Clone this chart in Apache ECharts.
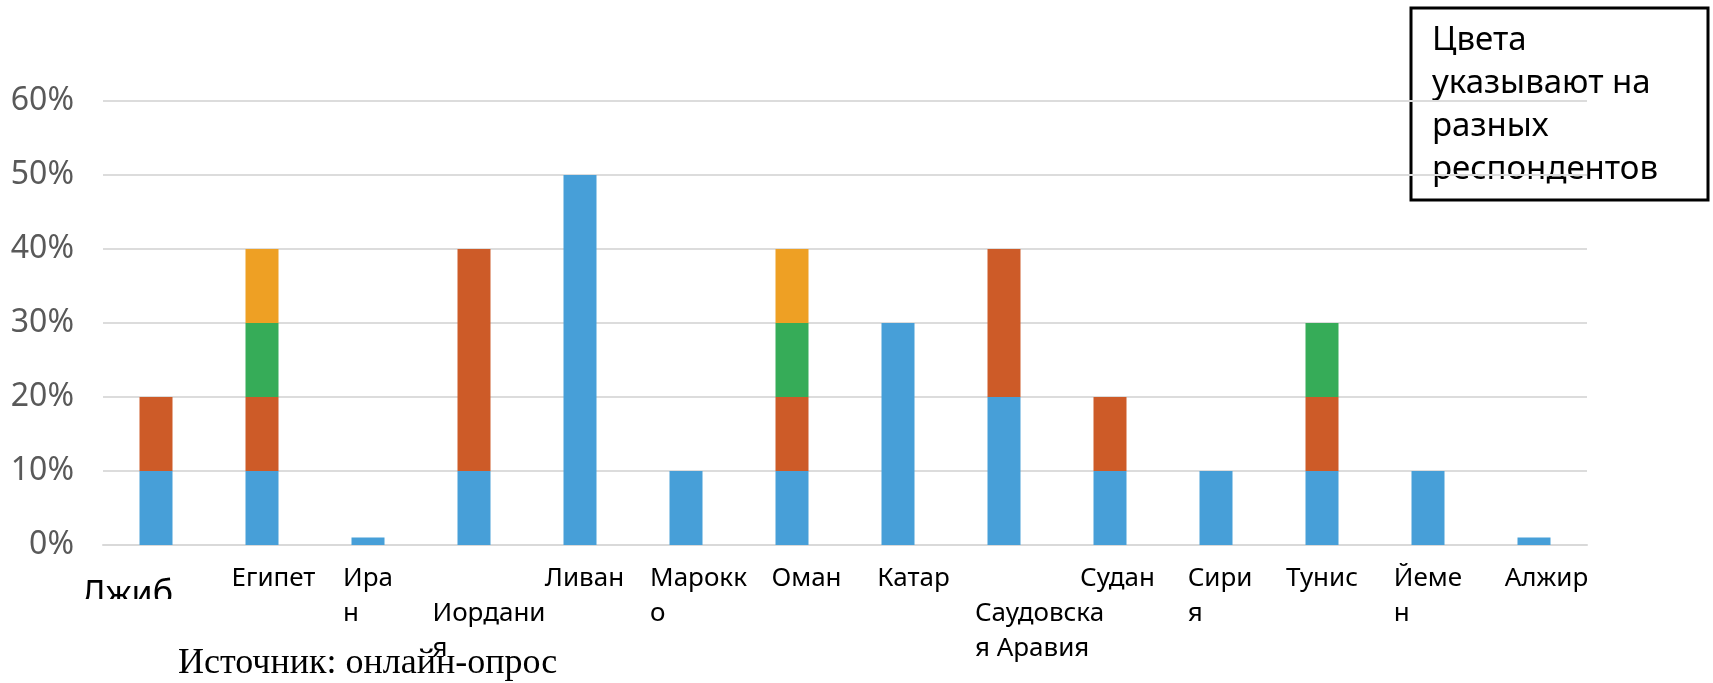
<!DOCTYPE html>
<html>
<head>
<meta charset="utf-8">
<title>Ответы по странам</title>
<script src="https://cdn.jsdelivr.net/npm/echarts@6/dist/echarts.min.js"></script>
<style>
    html, body {margin: 0; padding: 0; background: #fff;}
    #main {width: 1713px; height: 683px;}
</style>
</head>
<body>
<div id="main"></div>
<script>
var categories = ['Джибути', 'Египет', 'Иран', 'Иордания', 'Ливан', 'Марокко', 'Оман', 'Катар',
    'Саудовская Аравия', 'Судан', 'Сирия', 'Тунис', 'Йемен', 'Алжир'];
// подписи оси как на картинке (с переносами), у Джибути своя подпись сверху
var tickLabels = ['', 'Египет', 'Ира\n{l|н}', '\nИордани\n{l|я}', 'Ливан', 'Марокк\n{l|о}', 'Оман', 'Катар',
    '\nСаудовска\n{l|я Аравия}', 'Судан', 'Сири\n{l|я}', 'Тунис', 'Йеме\n{l|н}', 'Алжир'];
var yTicks = [0, 10, 20, 30, 40, 50, 60];
// четыре разных респондента, %
var resp1 = [10, 10, 1, 10, 50, 10, 10, 30, 20, 10, 10, 10, 10, 1];
var resp2 = [10, 10, 0, 30, 0, 0, 10, 0, 20, 10, 0, 10, 0, 0];
var resp3 = [0, 10, 0, 0, 0, 0, 10, 0, 0, 0, 0, 10, 0, 0];
var resp4 = [0, 10, 0, 0, 0, 0, 10, 0, 0, 0, 0, 0, 0, 0];

(function () {
    var myEchart = echarts.init(document.getElementById('main'));
    var colors = ['#479fd8', '#cd5b28', '#36ac58', '#eea024'];
    var font = '"Noto Sans", "DejaVu Sans", sans-serif';
    // сдвиг подписей вправо (padding слева)
    var shift = [0, 23, 0, 30, 9, 25, 29, 31, 71, 15, 8, 0, 0, 25];

    var xData = [];
    for (var i = 0; i < categories.length; i++) {
        xData.push({value: categories[i], textStyle: {padding: [0, 0, 0, shift[i]]}});
    }

    var series = [];
    var all = [resp1, resp2, resp3, resp4];
    for (var k = 0; k < all.length; k++) {
        series.push({
            name: 'Респондент ' + (k + 1),
            type: 'bar',
            stack: 'total',
            barWidth: 33,
            itemStyle: {color: colors[k]},
            data: all[k]
        });
    }

    myEchart.setOption({
        animation: false,
        grid: {left: 103, right: 126, top: 101, bottom: 138, containLabel: false},
        xAxis: {
            type: 'category',
            data: xData,
            axisTick: {show: false},
            axisLine: {lineStyle: {color: '#d9d9d9', width: 2}},
            axisLabel: {
                interval: 0,
                margin: 16,
                color: '#000',
                fontFamily: font,
                fontSize: 26,
                lineHeight: 35,
                formatter: function (value, index) {
                    return tickLabels[index];
                },
                rich: {
                    l: {align: 'left', color: '#000', fontFamily: font, fontSize: 26, lineHeight: 35}
                }
            }
        },
        yAxis: {
            type: 'value',
            min: yTicks[0],
            max: yTicks[yTicks.length - 1],
            interval: 10,
            axisLine: {show: false},
            axisTick: {show: false},
            splitLine: {lineStyle: {color: '#dcdcdc', width: 2}},
            axisLabel: {
                margin: 29,
                color: '#595959',
                fontFamily: font,
                fontSize: 32,
                formatter: '{value}%'
            }
        },
        series: series,
        graphic: [
            {
                type: 'rect',
                shape: {x: 1411, y: 8, width: 297, height: 192},
                style: {fill: 'none', stroke: '#000', lineWidth: 3}
            },
            {
                type: 'text',
                left: 1432,
                top: 19,
                style: {
                    text: 'Цвета\nуказывают на\nразных\nреспондентов',
                    fill: '#000',
                    font: '33px ' + font,
                    lineHeight: 43
                }
            },
            {
                type: 'text',
                left: 81,
                top: 578,
                style: {text: 'Джиб', fill: '#000', font: '34px ' + font}
            },
            {
                // нижняя часть подписи обрезана, как в исходнике
                type: 'rect',
                shape: {x: 60, y: 599, width: 140, height: 44},
                style: {fill: '#fff'}
            },
            {
                type: 'text',
                left: 178,
                top: 646,
                style: {text: 'Источник: онлайн-опрос', fill: '#000', font: '36px "Liberation Serif", serif'}
            }
        ]
    });
})();
</script>
</body>
</html>
